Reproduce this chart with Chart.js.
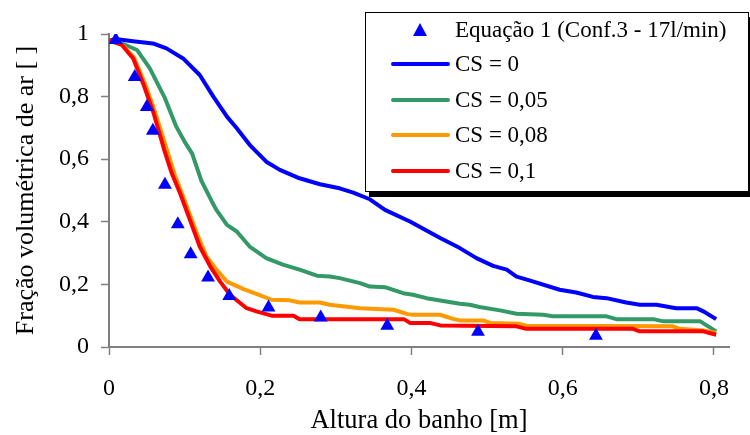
<!DOCTYPE html>
<html><head><meta charset="utf-8">
<script src="https://cdn.jsdelivr.net/npm/chart.js@4/dist/chart.umd.min.js"></script>
<style>html,body{margin:0;padding:0;background:#fff}#wrap{width:750px;height:435px}</style>
</head><body><div id="wrap"><canvas id="c" width="750" height="435"></canvas></div>
<script>
const FONT = '"Liberation Serif", "Times New Roman", serif';
const xTicks = [0, 0.2, 0.4, 0.6, 0.8];
const yTicks = [0, 0.2, 0.4, 0.6, 0.8, 1];
const seriesLabels = ['Equação 1 (Conf.3 - 17l/min)', 'CS = 0', 'CS = 0,05', 'CS = 0,08', 'CS = 0,1'];

const eqX = [0.009,0.034,0.050,0.058,0.074,0.091,0.108,0.131,0.159,0.211,0.280,0.368,0.488,0.644];
const eqY = [0.981,0.863,0.767,0.691,0.518,0.392,0.296,0.222,0.163,0.126,0.094,0.068,0.049,0.036];

const cs0X = [0,0.011,0.032,0.058,0.076,0.098,0.120,0.138,0.156,0.169,0.186,0.208,0.226,0.252,0.279,0.305,0.323,0.345,0.365,0.398,0.438,0.464,0.486,0.508,0.526,0.539,0.556,0.596,0.618,0.640,0.658,0.684,0.702,0.724,0.750,0.777,0.786,0.803];
const cs0Y = [0.98,0.983,0.977,0.970,0.954,0.922,0.869,0.800,0.736,0.699,0.646,0.592,0.566,0.539,0.520,0.507,0.493,0.472,0.438,0.401,0.348,0.316,0.284,0.259,0.247,0.225,0.213,0.183,0.174,0.160,0.156,0.142,0.135,0.135,0.124,0.124,0.114,0.089];

const cs005X = [0,0.019,0.037,0.054,0.074,0.089,0.101,0.110,0.122,0.136,0.142,0.156,0.169,0.186,0.208,0.230,0.252,0.275,0.292,0.305,0.332,0.345,0.365,0.389,0.402,0.420,0.464,0.477,0.490,0.517,0.539,0.574,0.587,0.658,0.671,0.720,0.733,0.782,0.803];
const cs005Y = [0.98,0.968,0.949,0.890,0.795,0.704,0.652,0.618,0.532,0.465,0.438,0.390,0.369,0.321,0.284,0.263,0.247,0.228,0.225,0.220,0.204,0.193,0.191,0.172,0.167,0.156,0.138,0.135,0.128,0.117,0.106,0.103,0.098,0.098,0.089,0.089,0.082,0.082,0.050];

const cs008X = [0,0.017,0.033,0.047,0.061,0.076,0.087,0.098,0.116,0.129,0.142,0.156,0.178,0.195,0.215,0.239,0.252,0.279,0.292,0.332,0.376,0.395,0.402,0.438,0.455,0.464,0.495,0.504,0.543,0.552,0.746,0.755,0.786,0.803];
const cs008Y = [0.98,0.966,0.925,0.845,0.750,0.635,0.550,0.481,0.364,0.289,0.247,0.209,0.185,0.170,0.151,0.149,0.142,0.142,0.135,0.124,0.119,0.105,0.103,0.103,0.090,0.085,0.085,0.077,0.074,0.068,0.066,0.058,0.053,0.045];

const cs01X = [0,0.017,0.032,0.045,0.059,0.073,0.083,0.094,0.107,0.120,0.134,0.147,0.160,0.182,0.195,0.215,0.244,0.252,0.390,0.398,0.424,0.438,0.539,0.552,0.693,0.702,0.786,0.803];
const cs01Y = [0.98,0.965,0.922,0.843,0.747,0.630,0.555,0.491,0.406,0.321,0.257,0.209,0.167,0.124,0.114,0.100,0.100,0.089,0.089,0.077,0.077,0.069,0.066,0.058,0.058,0.050,0.050,0.039];

const pts = (xs, ys) => xs.map((x, i) => ({x: x, y: ys[i]}));
const lineDs = (label, xs, ys, color, order) => ({
  label, data: pts(xs, ys), showLine: true, borderColor: color, backgroundColor: color,
  borderWidth: 4, pointRadius: 0, tension: 0, order, borderJoinStyle: 'round'
});

const datasets = [
  {label: seriesLabels[0], data: pts(eqX, eqY), showLine: false, pointStyle: 'triangle',
   pointRadius: 8, pointBackgroundColor: '#0000FF', pointBorderColor: '#0000FF', borderWidth: 0, order: 0},
  lineDs(seriesLabels[1], cs0X, cs0Y, '#0000FF', 4),
  lineDs(seriesLabels[2], cs005X, cs005Y, '#339966', 3),
  lineDs(seriesLabels[3], cs008X, cs008Y, '#FF9900', 2),
  lineDs(seriesLabels[4], cs01X, cs01Y, '#FF0000', 1)
];

const fmt = v => String(Math.round(v * 10) / 10).replace('.', ',');

const legendBox = {
  id: 'legendBox',
  afterDraw(chart) {
    const ctx = chart.ctx;
    const L = 365, T = 12, R = 749, B = 192;
    ctx.save();
    ctx.fillStyle = '#000';
    ctx.fillRect(L + 4, T + 5, R - L, B - T);
    ctx.fillStyle = '#fff';
    ctx.fillRect(L, T, R - L, B - T);
    ctx.strokeStyle = '#000';
    ctx.lineWidth = 1;
    ctx.strokeRect(L + 0.5, T + 0.5, R - L - 1, B - T - 1);
    ctx.font = '23px ' + FONT;
    ctx.textBaseline = 'middle';
    ctx.textAlign = 'left';
    const rows = [30, 64, 100, 135, 171];
    chart.data.datasets.forEach((ds, i) => {
      const y = rows[i];
      if (i === 0) {
        ctx.fillStyle = '#0000FF';
        ctx.beginPath();
        ctx.moveTo(420, y - 7);
        ctx.lineTo(427, y + 6);
        ctx.lineTo(413, y + 6);
        ctx.closePath();
        ctx.fill();
      } else {
        ctx.strokeStyle = ds.borderColor;
        ctx.lineWidth = 4;
        ctx.lineCap = 'round';
        ctx.beginPath();
        ctx.moveTo(393, y);
        ctx.lineTo(448, y);
        ctx.stroke();
      }
      ctx.fillStyle = '#000';
      ctx.fillText(ds.label, 455, y + 1);
    });
    ctx.restore();
  }
};

new Chart(document.getElementById('c'), {
  type: 'scatter',
  data: {datasets},
  plugins: [legendBox],
  options: {
    responsive: false, animation: false,
    layout: {padding: {top: 34, right: 21, left: 0, bottom: 0}},
    plugins: {legend: {display: false}, tooltip: {enabled: false}},
    scales: {
      x: {
        type: 'linear', min: 0, max: 0.82,
        afterBuildTicks: s => { s.ticks = xTicks.map(v => ({value: v})); },
        afterFit: s => { s.height = 88; },
        grid: {drawOnChartArea: false, color: '#808080', tickLength: 8, tickWidth: 1.5},
        border: {color: '#808080', width: 2},
        ticks: {color: '#000', font: {family: FONT, size: 24}, padding: 19, maxRotation: 0, callback: fmt},
        title: {display: true, text: 'Altura do banho [m]', color: '#000',
                font: {family: FONT, size: 26.5, lineHeight: 1}, padding: {top: 0, bottom: 1}}
      },
      y: {
        type: 'linear', min: 0, max: 1,
        afterBuildTicks: s => { s.ticks = yTicks.map(v => ({value: v})); },
        afterFit: s => { s.width = 109; },
        grid: {drawOnChartArea: false, color: '#808080', tickLength: 8, tickWidth: 1.5},
        border: {color: '#808080', width: 2},
        ticks: {color: '#000', font: {family: FONT, size: 24}, padding: 12, callback: fmt},
        title: {display: true, text: 'Fração volumétrica de ar [ ]', color: '#000',
                font: {family: FONT, size: 26, lineHeight: 1}, padding: {top: 13, bottom: 0}}
      }
    }
  }
});
</script></body></html>
